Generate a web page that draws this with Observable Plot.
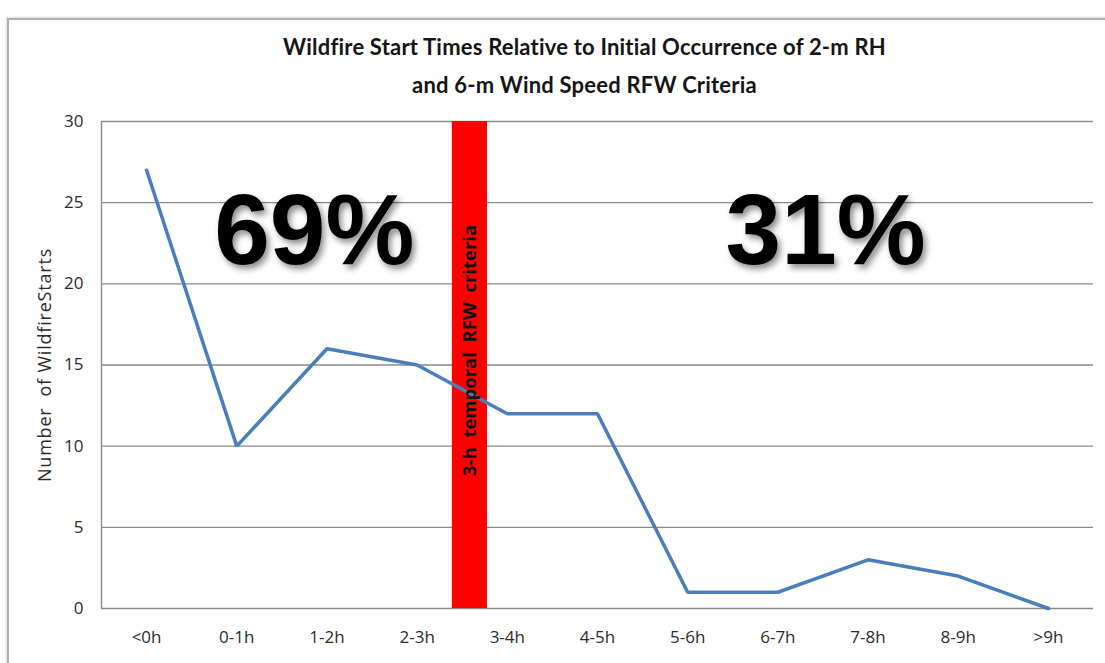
<!DOCTYPE html>
<html>
<head>
<meta charset="utf-8">
<script src="https://cdn.jsdelivr.net/npm/d3@7"></script>
<script src="https://cdn.jsdelivr.net/npm/@observablehq/plot@0.6"></script>
<style>
  html, body { margin: 0; padding: 0; background: #fff; }
  #wrap { position: relative; width: 1105px; height: 663px; overflow: hidden; }
  #frame { position: absolute; left: 7px; top: 18px; width: 1200px; height: 700px;
           border-top: 2px solid #b0b0b0; border-left: 2px solid #b0b0b0; pointer-events: none;
           box-shadow: -1px -1px 2px rgba(0,0,0,0.15); }
  #title { height: 100px; box-sizing: border-box; padding-top: 28px; padding-left: 64px;
           text-align: center; font-family: Lato, "Open Sans", sans-serif; font-weight: bold;
           font-size: 22px; letter-spacing: 0.2px; color: #151515; }
  #title div { height: 38px; line-height: 38px; white-space: nowrap; }
</style>
</head>
<body>
<div id="wrap">
  <div id="frame"></div>
  <div id="title">
    <div>Wildfire Start Times Relative to Initial Occurrence of 2-m RH</div>
    <div>and 6-m Wind Speed RFW Criteria</div>
  </div>
  <div id="chart"></div>
</div>
<script>
const categories = ["<0h", "0-1h", "1-2h", "2-3h", "3-4h", "4-5h", "5-6h", "6-7h", "7-8h", "8-9h", ">9h"];
const starts = [27, 10, 16, 15, 12, 12, 1, 1, 3, 2, 0];
const yTicks = [0, 5, 10, 15, 20, 25, 30];
const yTitle = "Number\u00a0 of WildfireStarts";
const criteriaBand = [{x1: 3.39, x2: 3.78, y1: 0, y2: 30}];
const shares = [{label: "69%", x: 1.86, y: 23.2}, {label: "31%", x: 7.53, y: 23.2}];
const bandLabel = [{label: "3-h\u00a0 temporal\u00a0 RFW\u00a0 criteria", x: 3.585, y: 15.9}];

const data = categories.map((c, i) => ({i, c, v: starts[i]}));

const chart = Plot.plot({
  width: 1105,
  height: 563,
  marginLeft: 101,
  marginRight: 12,
  marginTop: 21,
  marginBottom: 55,
  style: {fontFamily: "'Open Sans', 'DejaVu Sans', sans-serif", fontSize: "17px", color: "#2b2b2b", background: "transparent"},
  x: {domain: [-0.5, 10.5], axis: null},
  y: {domain: [0, 30], axis: null},
  marks: [
    Plot.ruleY(yTicks, {stroke: "#8a8a8a", strokeWidth: 1.4}),
    Plot.ruleX([-0.5], {y1: 0, y2: 30, stroke: "#8a8a8a", strokeWidth: 1.4}),
    Plot.axisY({ticks: yTicks, tickSize: 0, tickPadding: 18, fontSize: 17, fill: "#2b2b2b", label: null}),
    Plot.axisX({ticks: d3.range(categories.length), tickFormat: i => categories[i], tickSize: 0, tickPadding: 22, fontSize: 17, fill: "#2b2b2b", label: null}),
    Plot.text([yTitle], {frameAnchor: "left", textAnchor: "middle", rotate: -90, dx: -56, fontSize: 18, fill: "#2b2b2b"}),
    Plot.rect(criteriaBand, {x1: "x1", x2: "x2", y1: "y1", y2: "y2", fill: "#ff0000"}),
    Plot.line(data, {x: "i", y: "v", stroke: "#4a7ebb", strokeWidth: 3.5, strokeLinejoin: "miter"}),
    Plot.text(bandLabel, {x: "x", y: "y", text: "label", rotate: -90, fontSize: 18.5, fontWeight: "bold", fill: "#111", fontFamily: "'Open Sans', sans-serif"}),
    Plot.text(shares, {x: "x", y: "y", text: "label", fontSize: 100, fontWeight: "bold", fill: "#000", fontFamily: "'Liberation Sans', Arial, sans-serif"})
  ]
});
document.getElementById("chart").appendChild(chart);
d3.select(chart).selectAll("text").filter(function() { return /%$/.test(this.textContent); })
  .style("filter", "drop-shadow(3px 4px 3px rgba(0,0,0,0.45))");
d3.select(chart).selectAll("text").filter(function() { return /Wildfire/.test(this.textContent); })
  .style("letter-spacing", "0.8px");
</script>
</body>
</html>
